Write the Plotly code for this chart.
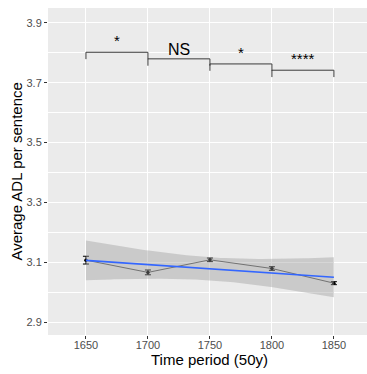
import numpy as np
import plotly.graph_objects as go

# Mean ADL per sentence for each 50-year period, with standard errors
periods = [1650, 1700, 1750, 1800, 1850]
mean_adl = [3.107, 3.066, 3.108, 3.079, 3.030]
se_adl = [0.013, 0.008, 0.006, 0.006, 0.005]

# Pairwise comparisons between neighbouring periods
pair_start = [1650, 1700, 1750, 1800]
pair_end = [1700, 1750, 1800, 1850]
pair_y = [3.802, 3.780, 3.763, 3.742]
pair_label = ["*", "NS", "*", "****"]

y_ticks = [2.9, 3.1, 3.3, 3.5, 3.7, 3.9]
y_minor = [3.0, 3.2, 3.4, 3.6, 3.8]

FONT = "Liberation Sans, Arial, sans-serif"

# Linear fit with 95% confidence band (t quantile for df = n - 2 = 3)
x = np.array(periods, dtype=float)
y = np.array(mean_adl)
slope, intercept = np.polyfit(x, y, 1)
resid = y - (slope * x + intercept)
s = np.sqrt(np.sum(resid ** 2) / (len(x) - 2))
t_crit = 3.182446
xs = np.linspace(x.min(), x.max(), 80)
fit = slope * xs + intercept
se_fit = s * np.sqrt(1 / len(x) + (xs - x.mean()) ** 2 / np.sum((x - x.mean()) ** 2))
upper = fit + t_crit * se_fit
lower = fit - t_crit * se_fit

fig = go.Figure()

# means connected by a line, with error bars
fig.add_trace(go.Scatter(
    x=periods, y=mean_adl, mode="lines+markers",
    line=dict(color="#1a1a1a", width=0.7),
    marker=dict(color="black", size=3.5),
    error_y=dict(type="data", array=se_adl, color="black", thickness=1, width=3),
    showlegend=False, hoverinfo="skip",
))

# confidence band and fitted line
fig.add_trace(go.Scatter(
    x=np.concatenate([xs, xs[::-1]]), y=np.concatenate([upper, lower[::-1]]),
    fill="toself", fillcolor="rgba(153,153,153,0.4)", line=dict(width=0),
    mode="lines", showlegend=False, hoverinfo="skip",
))
fig.add_trace(go.Scatter(
    x=xs, y=fit, mode="lines", line=dict(color="#3366FF", width=1.7),
    showlegend=False, hoverinfo="skip",
))

# significance brackets
tip = 0.023
for x1, x2, yb, lab in zip(pair_start, pair_end, pair_y, pair_label):
    fig.add_trace(go.Scatter(
        x=[x1, x1, x2, x2], y=[yb - tip, yb, yb, yb - tip], mode="lines",
        line=dict(color="#3a3a3a", width=1), showlegend=False, hoverinfo="skip",
    ))
    is_ns = lab == "NS"
    fig.add_annotation(
        x=(x1 + x2) / 2, y=yb, xref="x", yref="y", text=lab, showarrow=False,
        yanchor="bottom", yshift=-1 if is_ns else 1,
        font=dict(family=FONT, size=16 if is_ns else 15, color="black"),
    )

# axis titles
fig.add_annotation(
    x=0.506, y=-0.075, xref="paper", yref="paper", text="Time period (50y)",
    showarrow=False, xanchor="center", yanchor="middle",
    font=dict(family=FONT, size=15, color="black"),
)
fig.add_annotation(
    x=-0.1, y=0.5, xref="paper", yref="paper", text="Average ADL per sentence",
    showarrow=False, xanchor="center", yanchor="middle", textangle=-90,
    font=dict(family=FONT, size=15, color="black"),
)

fig.update_layout(
    width=367, height=374,
    margin=dict(l=48, r=0, t=8, b=39),
    paper_bgcolor="white", plot_bgcolor="#EBEBEB",
    font=dict(family=FONT),
    xaxis=dict(
        range=[1619.4, 1876.7], tickvals=periods,
        ticktext=[str(p) for p in periods],
        ticks="outside", ticklen=3, tickcolor="#333333", tickwidth=1,
        ticklabelstandoff=-3,
        tickfont=dict(family=FONT, size=11, color="#4D4D4D"),
        showgrid=True, gridcolor="white", gridwidth=1.1,
        zeroline=False, showline=False,
    ),
    yaxis=dict(
        range=[2.8567, 3.95], tickvals=y_ticks,
        ticktext=[f"{v:.1f}" for v in y_ticks],
        ticks="outside", ticklen=3, tickcolor="#333333", tickwidth=1,
        tickfont=dict(family=FONT, size=11, color="#4D4D4D"),
        showgrid=True, gridcolor="white", gridwidth=1.1,
        minor=dict(tickvals=y_minor, showgrid=True, gridcolor="white",
                   gridwidth=0.55, ticks=""),
        zeroline=False, showline=False,
    ),
)

fig.write_html("out.html")
